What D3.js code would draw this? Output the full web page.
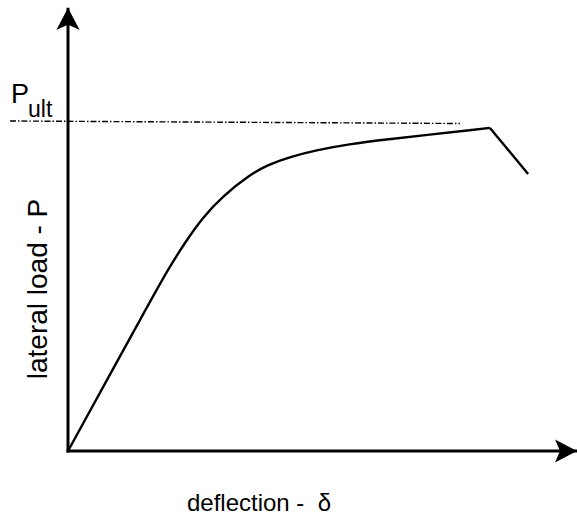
<!DOCTYPE html>
<html><head><meta charset="utf-8">
<script src="https://cdn.jsdelivr.net/npm/d3@7"></script>
<style>
html,body{margin:0;padding:0;background:#fff;}
svg{display:block;}
text{font-family:"Liberation Sans", Arial, Helvetica, sans-serif;fill:#000;}
</style></head>
<body>
<div id="chart"></div>
<script>
// Data (deflection in arbitrary units, load as fraction of P_ult)
const deflection = [0, 1.65, 1.96, 2.29, 2.65, 3.04, 3.57, 3.91, 4.36, 4.89, 5.54, 6.13, 8.29, 9.04];
const load       = [0, 0.465, 0.550, 0.632, 0.711, 0.775, 0.839, 0.869, 0.894, 0.915, 0.933, 0.945, 0.982, 0.842];
const peakIndex = 12;
const pultValue = 1.0;
const pultExtent = [-1.14, 7.7];
const xAxisMax = 10;
const yAxisMax = 1.347;
const xLabel = "deflection -  δ";
const yLabel = "lateral load - P";

const W = 577, H = 515;
const svg = d3.select("#chart").append("svg").attr("width", W).attr("height", H);

const x = d3.scaleLinear().domain([0, xAxisMax]).range([68, 577]);
const y = d3.scaleLinear().domain([0, pultValue]).range([451, 122]);

const defs = svg.append("defs");
defs.append("marker").attr("id","arr").attr("viewBox","0 0 24 24")
  .attr("refX",22).attr("refY",12).attr("markerWidth",24).attr("markerHeight",24)
  .attr("markerUnits","userSpaceOnUse").attr("orient","auto")
  .append("path").attr("d","M22,12 L0,0.5 L5,12 L0,23.5 Z").attr("fill","#000");

// axes
svg.append("line").attr("x1", x(0)).attr("y1", y(0)+1.5).attr("x2", x(0)).attr("y2", y(yAxisMax))
  .attr("stroke","#000").attr("stroke-width",3).attr("marker-end","url(#arr)");
svg.append("line").attr("x1", x(0)-1.5).attr("y1", y(0)).attr("x2", x(xAxisMax)).attr("y2", y(0))
  .attr("stroke","#000").attr("stroke-width",3).attr("marker-end","url(#arr)");

// P_ult dash-dot line
svg.append("line").attr("x1", x(pultExtent[0])).attr("x2", x(pultExtent[1]))
  .attr("y1", y(pultValue)-1).attr("y2", y(pultValue)+1.5)
  .attr("stroke","#000").attr("stroke-width",1.4).attr("stroke-dasharray","6,2,1.5,2");

// curve
const pts = deflection.map((d,i)=>[d, load[i]]);
const rise = d3.line().x(d=>x(d[0])).y(d=>y(d[1])).curve(d3.curveBasis);
const drop = d3.line().x(d=>x(d[0])).y(d=>y(d[1]));
svg.append("path").attr("d", rise(pts.slice(0, peakIndex+1))).attr("fill","none")
  .attr("stroke","#000").attr("stroke-width",2.4).attr("stroke-linejoin","round");
svg.append("path").attr("d", drop(pts.slice(peakIndex))).attr("fill","none")
  .attr("stroke","#000").attr("stroke-width",2.4).attr("stroke-linejoin","miter");

// P_ult label
const pl = svg.append("text").attr("x", 11).attr("y", 103).attr("font-size", 27);
pl.append("tspan").text("P");
pl.append("tspan").attr("font-size", 23).attr("dy", 14).attr("dx", -1).text("ult");

// axis titles
svg.append("text").attr("x", 259).attr("y", 511).attr("text-anchor","middle")
  .attr("font-size", 24).style("white-space","pre").attr("xml:space","preserve").text(xLabel);
svg.append("text").attr("transform","translate(47,289) rotate(-90)").attr("text-anchor","middle")
  .attr("font-size", 28).text(yLabel);
</script>
</body></html>
